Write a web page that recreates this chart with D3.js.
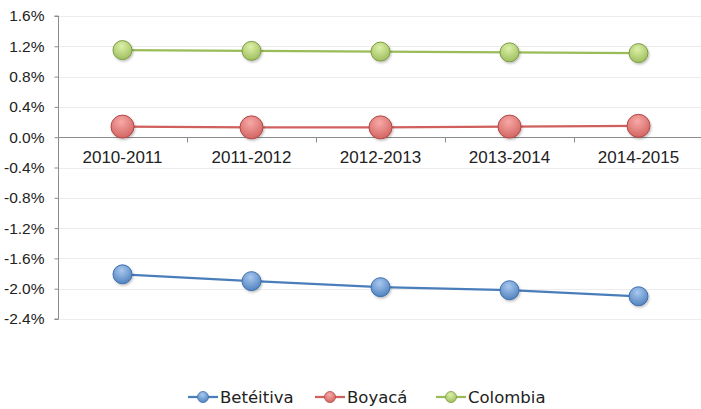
<!DOCTYPE html>
<html>
<head>
<meta charset="utf-8">
<script src="https://cdn.jsdelivr.net/npm/d3@7"></script>
<style>
  body { margin: 0; background: #fff; }
  svg { display: block; font-family: "DejaVu Sans", sans-serif; }
</style>
</head>
<body>
<svg id="chart" width="701" height="409"></svg>
<script>
const periods = ["2010-2011", "2011-2012", "2012-2013", "2013-2014", "2014-2015"];
const betetiva = [-1.81, -1.90, -1.98, -2.02, -2.10];
const boyaca   = [0.14, 0.13, 0.13, 0.14, 0.15];
const colombia = [1.15, 1.14, 1.13, 1.12, 1.11];
const yTicks = [1.6, 1.2, 0.8, 0.4, 0.0, -0.4, -0.8, -1.2, -1.6, -2.0, -2.4];

const series = [
  { name: "Betéitiva", values: betetiva, color: "#4a7ebb", light: "#a9c8ef", dark: "#3f6fae", r: 9.5 },
  { name: "Boyacá",    values: boyaca,   color: "#d0605d", light: "#f7a9a7", dark: "#b04845", r: 11.5 },
  { name: "Colombia",  values: colombia, color: "#9bbb59", light: "#dcf0a8", dark: "#7d9c44", r: 9.5 }
];

const svg = d3.select("#chart");
const plotL = 58, plotR = 703, plotT = 16, plotB = 319;

const x = d3.scaleBand().domain(periods).range([plotL, plotR]);
const y = d3.scaleLinear().domain([-2.4, 1.6]).range([plotB, plotT]);

// gradients + soft shadow
const defs = svg.append("defs");
series.forEach((s, i) => {
  const g = defs.append("radialGradient").attr("id", "g" + i)
    .attr("cx", "45%").attr("cy", "30%").attr("r", "75%");
  g.append("stop").attr("offset", "0%").attr("stop-color", s.light);
  g.append("stop").attr("offset", "100%").attr("stop-color", s.color);
});
const sh = defs.append("filter").attr("id", "shadow")
  .attr("x", "-50%").attr("y", "-50%").attr("width", "200%").attr("height", "200%");
sh.append("feDropShadow").attr("dx", 1).attr("dy", 1.5).attr("stdDeviation", 1.2)
  .attr("flood-color", "#000").attr("flood-opacity", 0.25);

// gridlines
svg.append("g").selectAll("line").data(yTicks).join("line")
  .attr("x1", plotL).attr("x2", plotR)
  .attr("y1", d => Math.round(y(d)) + 0.5).attr("y2", d => Math.round(y(d)) + 0.5)
  .attr("stroke", "#ececec").attr("stroke-width", 1);

// y axis
const yAxis = svg.append("g").attr("transform", `translate(${plotL + 0.5},0)`)
  .call(d3.axisLeft(y).tickValues(yTicks).tickSize(4).tickPadding(10)
    .tickFormat(d => d3.format(".1f")(d).replace("−", "-") + "%"));
yAxis.select(".domain").attr("stroke", "#8c8c8c").attr("d", `M-4,${y(1.6)}H0V${y(-2.4)}H-4`);
yAxis.selectAll(".tick line").attr("stroke", "#8c8c8c");
yAxis.selectAll("text").attr("font-size", 15.5).attr("fill", "#222");

// x axis at zero
const xAxis = svg.append("g").attr("transform", `translate(0,${Math.round(y(0)) + 0.5})`)
  .call(d3.axisBottom(x).tickSize(0).tickPadding(13));
xAxis.select(".domain").attr("stroke", "#8c8c8c").attr("d", `M${plotL},0H${plotR}`);
xAxis.selectAll("text").attr("font-size", 17).attr("fill", "#222");
xAxis.append("g").selectAll("line").data(periods.slice(1)).join("line")
  .attr("x1", d => Math.round(x(d)) + 0.5).attr("x2", d => Math.round(x(d)) + 0.5)
  .attr("y1", 0).attr("y2", 5).attr("stroke", "#8c8c8c");

// lines and markers
const cx = d => x(d) + x.bandwidth() / 2;
series.forEach((s, i) => {
  const pts = periods.map((p, j) => [cx(p), y(s.values[j])]);
  svg.append("path").datum(pts)
    .attr("d", d3.line())
    .attr("fill", "none").attr("stroke", s.color).attr("stroke-width", 2.25);
  svg.append("g").selectAll("circle").data(pts).join("circle")
    .attr("cx", d => d[0]).attr("cy", d => d[1]).attr("r", s.r)
    .attr("fill", `url(#g${i})`).attr("stroke", s.dark).attr("stroke-width", 1)
    .attr("filter", "url(#shadow)");
});

// legend
const legendX = [188, 315, 436];
const lg = svg.append("g");
series.forEach((s, i) => {
  const g = lg.append("g").attr("transform", `translate(${legendX[i]},397)`);
  g.append("line").attr("x1", 0).attr("x2", 30).attr("y1", 0).attr("y2", 0)
    .attr("stroke", s.color).attr("stroke-width", 2.25);
  g.append("circle").attr("cx", 15).attr("cy", 0).attr("r", 5.5)
    .attr("fill", `url(#g${i})`).attr("stroke", s.dark).attr("stroke-width", 0.8);
  g.append("text").attr("x", 32).attr("y", 0).attr("dy", "0.35em")
    .attr("font-size", 16.5).attr("fill", "#222").text(s.name);
});
</script>
</body>
</html>
